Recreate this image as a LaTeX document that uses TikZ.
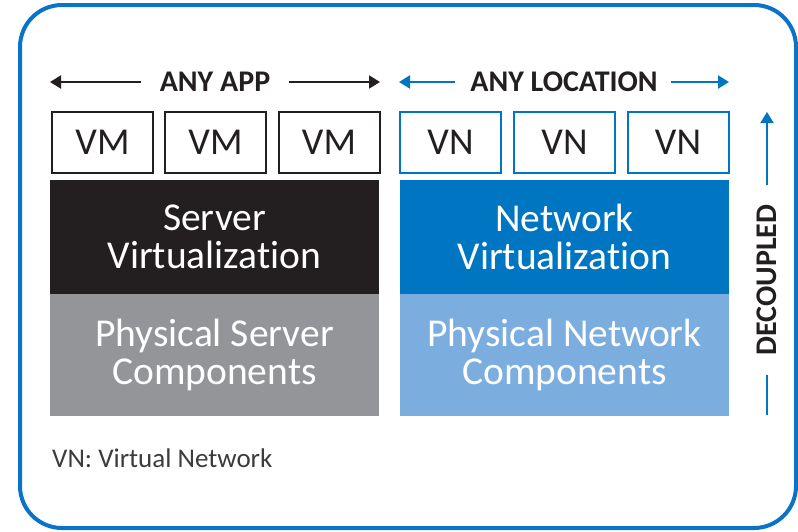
\documentclass[tikz,border=0pt]{standalone}
\usepackage{fontspec}
\setmainfont{Carlito}[Ligatures={NoCommon}]
\usetikzlibrary{arrows.meta,calc}

\definecolor{ibluedark}{RGB}{0,118,194}
\definecolor{iblueline}{RGB}{10,115,200}
\definecolor{ibluelight}{RGB}{123,174,222}
\definecolor{sblack}{RGB}{35,31,32}
\definecolor{sgray}{RGB}{147,149,152}
\definecolor{txt}{RGB}{35,31,32}
\definecolor{legendtxt}{RGB}{60,60,62}

\tikzset{
  frame/.style={draw=iblueline, line width=4pt, rounded corners=42pt},
  vmbox/.style={draw=sblack, line width=2pt, minimum width=101pt, minimum height=61pt,
    inner sep=0pt, font=\fontsize{38}{40}\selectfont, text=txt},
  vnbox/.style={vmbox, draw=ibluedark},
  layer/.style={minimum width=329pt, minimum height=114pt, inner sep=0pt, text=white,
    align=center, font=\fontsize{39.5}{38}\selectfont},
  base/.style={layer, minimum height=122pt},
  heading/.style={font=\bfseries\fontsize{30}{32}\selectfont, text=txt, inner sep=0pt},
  hline/.style={line width=2pt, -{Triangle[length=11pt,width=13pt]}},
}

\begin{document}
\begin{tikzpicture}[x=1pt,y=-1pt]
\useasboundingbox (0,0) rectangle (798,531);
\fill[white] (0,0) rectangle (798,531);

% outer frame
\draw[frame] (20,5) rectangle (796,528);

% headings with arrows
\node[heading] (app) at (215,82) {ANY APP};
\coordinate (appL) at (50,82);
\coordinate (appR) at (380,82);
\draw[hline, draw=sblack, fill=sblack] ($(app.west)+(-19,0)$) -- (appL);
\draw[hline, draw=sblack, fill=sblack] ($(app.east)+(19,0)$) -- (appR);

\node[heading] (loc) at (564,82) {ANY LOCATION};
\coordinate (locL) at (399,82);
\coordinate (locR) at (729,82);
\draw[hline, draw=ibluedark, fill=ibluedark] ($(loc.west)+(-15,0)$) -- (locL);
\draw[hline, draw=ibluedark, fill=ibluedark] ($(loc.east)+(13,0)$) -- (locR);

% VM boxes
\node[vmbox] (vm1) at (102.5,142.5) {VM};
\node[vmbox] (vm2) at (215.5,142.5) {VM};
\node[vmbox] (vm3) at (329,142.5) {VM};

% VN boxes
\node[vnbox] (vn1) at (450.5,142.5) {VN};
\node[vnbox] (vn2) at (564.5,142.5) {VN};
\node[vnbox] (vn3) at (678,142.5) {VN};

% server stack
\node[layer, fill=sblack] (sv) at (214.5,237) {Server\\Virtualization};
\node[base, fill=sgray] (ps) at (214.5,355) {Physical Server\\Components};

% network stack
\node[layer, fill=ibluedark] (nv) at (564.5,237) {Network\\Virtualization};
\node[base, fill=ibluelight] (pn) at (564.5,355) {Physical Network\\Components};

% decoupled axis
\node[heading, rotate=90] (dec) at (767,280) {DECOUPLED};
\coordinate (decT) at (767,112);
\coordinate (decB) at (767,415);
\draw[hline, draw=ibluedark, fill=ibluedark] ($(dec.east)+(0,-19)$) -- (decT);
\draw[line width=2pt, draw=ibluedark] ($(dec.west)+(0,19)$) -- (decB);

% legend
\node[anchor=west, inner sep=0pt, text=legendtxt, font=\fontsize{27}{29}\selectfont] (legend) at (52,458) {VN: Virtual Network};
\end{tikzpicture}
\end{document}
